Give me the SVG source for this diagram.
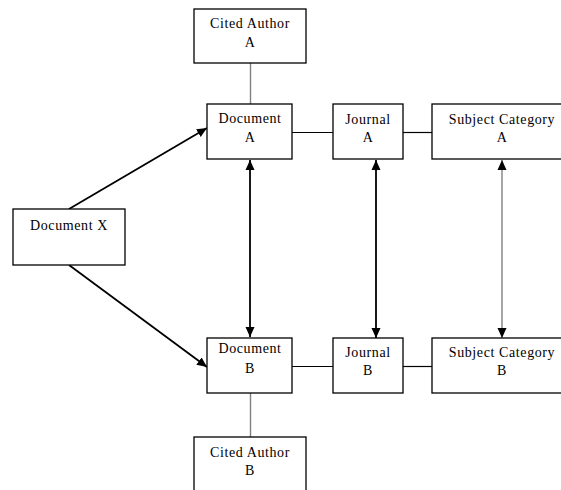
<svg xmlns="http://www.w3.org/2000/svg" width="561" height="490" viewBox="0 0 561 490">
<style>
.box{fill:#fff;stroke:#000;stroke-width:1.3}
.t{font-family:"Liberation Serif","Times New Roman",serif;font-size:14px;letter-spacing:0.6px;text-anchor:middle;fill:#000}
.ln{stroke:#000;stroke-width:1.2;fill:none}
.gr{stroke:#808080;stroke-width:1.4;fill:none}
.ar{stroke:#000;stroke-width:1.8;fill:none}
</style>
<defs>
<marker id="ah" markerUnits="userSpaceOnUse" markerWidth="12" markerHeight="10" refX="10" refY="5" orient="auto-start-reverse">
<path d="M0,0.5 L10,5 L0,9.5 Z" fill="#000"/>
</marker>
</defs>
<g id="connectors">
<line class="gr" x1="250.5" y1="63" x2="250.5" y2="104"/>
<line class="gr" x1="250.5" y1="393" x2="250.5" y2="437"/>
<line class="ln" x1="292" y1="132.5" x2="333" y2="132.5"/>
<line class="ln" x1="403" y1="132.5" x2="432" y2="132.5"/>
<line class="ln" x1="292" y1="366.5" x2="333" y2="366.5"/>
<line class="ln" x1="403" y1="366.5" x2="432" y2="366.5"/>
<line class="ar" x1="250" y1="160" x2="250" y2="337" marker-start="url(#ah)" marker-end="url(#ah)"/>
<line class="ar" x1="376" y1="160" x2="376" y2="338" marker-start="url(#ah)" marker-end="url(#ah)"/>
<line class="gr" x1="502" y1="160" x2="502" y2="338" marker-start="url(#ah)" marker-end="url(#ah)"/>
<line class="ar" x1="69" y1="209" x2="207" y2="128" marker-end="url(#ah)"/>
<line class="ar" x1="69" y1="265" x2="207" y2="367" marker-end="url(#ah)"/>
</g>
<g id="cited-author-a"><rect class="box" x="194" y="9" width="112" height="54"/><text class="t" x="250" y="28">Cited Author</text><text class="t" x="250" y="47">A</text></g>
<g id="document-a"><rect class="box" x="207" y="104" width="85" height="55"/><text class="t" x="250" y="123">Document</text><text class="t" x="250" y="142">A</text></g>
<g id="journal-a"><rect class="box" x="333" y="104" width="70" height="55"/><text class="t" x="368" y="124">Journal</text><text class="t" x="368" y="142">A</text></g>
<g id="subject-category-a"><rect class="box" x="432" y="104" width="140" height="55"/><text class="t" x="502" y="124">Subject Category</text><text class="t" x="502" y="142">A</text></g>
<g id="document-x"><rect class="box" x="13" y="209" width="112" height="56"/><text class="t" x="69" y="230">Document X</text></g>
<g id="document-b"><rect class="box" x="207" y="338" width="85" height="55"/><text class="t" x="250" y="353">Document</text><text class="t" x="250" y="373">B</text></g>
<g id="journal-b"><rect class="box" x="333" y="338" width="70" height="55"/><text class="t" x="368" y="357">Journal</text><text class="t" x="368" y="375">B</text></g>
<g id="subject-category-b"><rect class="box" x="432" y="338" width="140" height="55"/><text class="t" x="502" y="357">Subject Category</text><text class="t" x="502" y="375">B</text></g>
<g id="cited-author-b"><rect class="box" x="194" y="437" width="112" height="60"/><text class="t" x="250" y="457">Cited Author</text><text class="t" x="250" y="475">B</text></g>
</svg>
